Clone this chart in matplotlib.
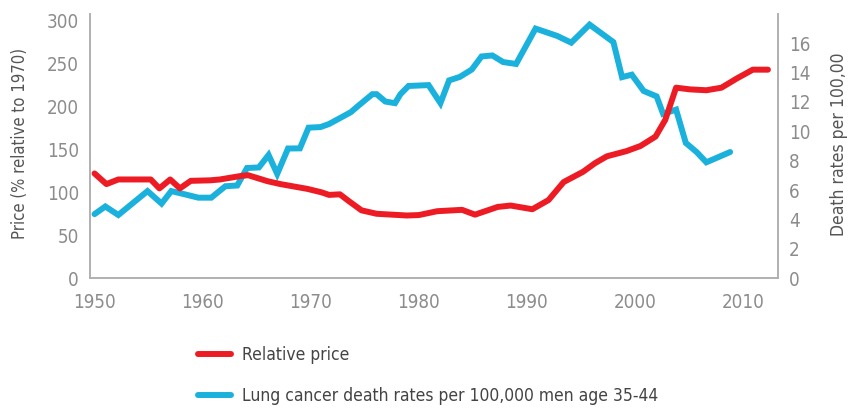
import matplotlib
matplotlib.use("Agg")
import matplotlib.pyplot as plt
from matplotlib.lines import Line2D

# relative cigarette price (% relative to 1970)
price_years = [1950.0, 1951.1, 1952.2, 1955.2, 1956.0, 1957.0, 1957.9, 1958.9,
               1960.7, 1961.6, 1963.5, 1964.2, 1966.0, 1967.2, 1969.7, 1971.0,
               1971.7, 1972.7, 1973.5, 1974.7, 1976.1, 1978.9, 1980.0, 1981.7,
               1984.0, 1985.2, 1987.3, 1988.5, 1990.5, 1992.0, 1993.4, 1995.2,
               1996.3, 1997.4, 1999.2, 2000.5, 2001.9, 2002.8, 2003.8, 2005.1,
               2006.6, 2008.0, 2009.4, 2010.9, 2012.3]
price = [122, 109.6, 115, 115, 104.6, 115, 104.6, 113.4,
         114, 115, 119, 120, 113, 109.6, 104, 100,
         97, 97.7, 90, 79, 75, 73, 73.5, 78,
         79.6, 74, 83, 84.6, 80.3, 91, 112, 124,
         134, 142, 148, 154, 165, 184.5, 222, 220,
         219, 222, 232.6, 243, 243]

# lung cancer death rates per 100,000 men age 35-44
death_years = [1950.0, 1951.0, 1952.2, 1954.9, 1956.2, 1957.1, 1958.4, 1959.6,
               1960.8, 1962.1, 1963.2, 1964.1, 1965.2, 1966.1, 1966.9, 1967.9,
               1969.0, 1969.8, 1970.9, 1971.7, 1973.7, 1974.4, 1975.7, 1976.1,
               1976.9, 1977.8, 1978.3, 1979.05, 1980.9, 1982.0, 1982.8, 1983.8,
               1984.9, 1985.8, 1986.8, 1987.8, 1989.0, 1990.8, 1992.8, 1994.1,
               1995.8, 1998.0, 1998.8, 1999.7, 2000.8, 2002.0, 2002.6, 2003.8,
               2004.7, 2005.7, 2006.6, 2008.8]
death = [4.36, 4.88, 4.3, 5.93, 5.08, 5.93, 5.7, 5.48,
         5.48, 6.26, 6.31, 7.5, 7.54, 8.39, 7.1, 8.83,
         8.84, 10.25, 10.29, 10.5, 11.3, 11.74, 12.53, 12.53,
         12.03, 11.92, 12.53, 13.09, 13.15, 11.92, 13.47, 13.71,
         14.21, 15.1, 15.17, 14.72, 14.59, 17.0, 16.5, 16.04,
         17.27, 16.08, 13.69, 13.86, 12.75, 12.38, 11.19, 11.48,
         9.21, 8.59, 7.89, 8.59]

x_ticks = [1950, 1960, 1970, 1980, 1990, 2000, 2010]
left_ticks = [0, 50, 100, 150, 200, 250, 300]
right_ticks = [0, 2, 4, 6, 8, 10, 12, 14, 16]

red = "#ED1C24"
blue = "#1BB1DD"
tick_col = "#8c8c8c"
label_col = "#555555"
spine_col = "#b0b0b0"

plt.rcParams["font.family"] = ["DejaVu Sans"]
plt.rcParams["font.stretch"] = "condensed"

fig = plt.figure(figsize=(8.49, 4.09), dpi=100)
ax = fig.add_axes([0.106, 0.320, 0.810, 0.646])
ax2 = ax.twinx()

ax.plot(price_years, price, color=red, lw=4.3, solid_capstyle="round",
        solid_joinstyle="round", zorder=3)
ax2.plot(death_years, death, color=blue, lw=4.3, solid_capstyle="round",
         solid_joinstyle="miter")

ax.set_xlim(1949.58, 2013.2)
ax.set_ylim(0, 308)
ax2.set_ylim(0, 18)
ax.set_xticks(x_ticks)
ax.set_yticks(left_ticks)
ax2.set_yticks(right_ticks)

for a in (ax, ax2):
    a.tick_params(length=0, labelsize=13.5, colors=tick_col, pad=8)
    a.spines["top"].set_visible(False)
    for s in ("left", "right", "bottom"):
        a.spines[s].set_color(spine_col)
        a.spines[s].set_linewidth(1.2)
ax.tick_params(axis="x", pad=11)
ax.set_zorder(ax2.get_zorder() + 1)
ax.patch.set_visible(False)

ax.set_ylabel("Price (% relative to 1970)", fontsize=12, color=label_col)
ax.yaxis.set_label_coords(-0.088, 0.508)
ax2.set_ylabel("Death rates per 100,00", fontsize=12.6, color=label_col,
               rotation=90)
ax2.yaxis.set_label_coords(1.076, 0.508)

handles = [Line2D([], [], color=red, lw=4.3, solid_capstyle="round"),
           Line2D([], [], color=blue, lw=4.3, solid_capstyle="round")]
labels = ["Relative price", "Lung cancer death rates per 100,000 men age 35-44"]
fig.legend(handles, labels, loc="upper left", bbox_to_anchor=(0.215, 0.193),
           frameon=False, fontsize=12.5, labelcolor="#444444",
           handlelength=1.9, handletextpad=0.6, labelspacing=1.35)

fig.savefig("out.png", dpi=100)
